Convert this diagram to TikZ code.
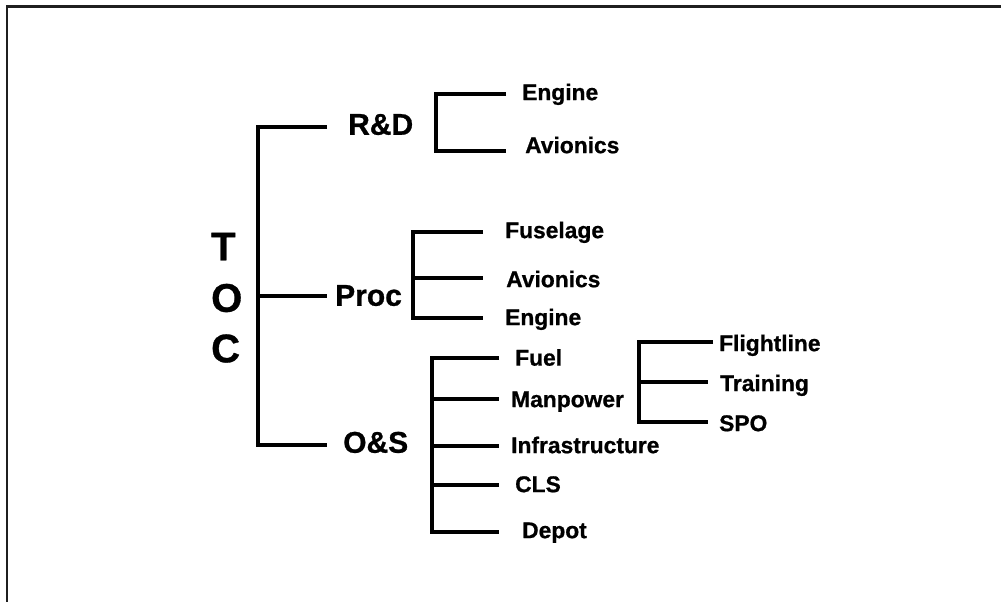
\documentclass[tikz,border=0pt]{standalone}
\usepackage{fontspec}
\setmainfont{Liberation Sans}[BoldFeatures={FakeBold=0.8}]
\begin{document}
\begin{tikzpicture}[x=1pt,y=-1pt,
  frameline/.style={line width=2.5pt,draw=black!88},
  trunk/.style={line width=4pt,line join=miter,line cap=butt},
  twig/.style={line width=3.6pt,line join=miter,line cap=butt},
  big/.style={anchor=west,inner sep=0pt,font=\fontsize{40}{40}\selectfont\bfseries,text height=28.6pt,text depth=0pt},
  mid/.style={anchor=west,inner sep=0pt,font=\fontsize{30}{30}\selectfont\bfseries,text height=21.5pt,text depth=0pt},
  small/.style={anchor=west,inner sep=0pt,font=\fontsize{22.8}{22.8}\selectfont\bfseries,text height=16.3pt,text depth=0pt}]
\useasboundingbox (0,0) rectangle (1001,602);
% frame
\coordinate (fA) at (7,602); \coordinate (fB) at (7,6.5); \coordinate (fC) at (1001,6.5);
\draw[frameline] (fA) -- (fB) -- (fC);
% TOC letters
\node[big] (tT) at (211,246) {T};
\node[big] (tO) at (211,297.5) {O};
\node[big] (tC) at (211,348) {C};
% main labels
\node[mid] (rd) at (348,124) {R\&D};
\node[mid] (proc) at (335,295) {Proc};
\node[mid] (os) at (343,442) {O\&S};
% R&D children
\node[small] (rdEngine) at (522,92) {Engine};
\node[small] (rdAvionics) at (525,145) {Avionics};
% Proc children
\node[small] (pFuselage) at (505,230) {Fuselage};
\node[small] (pAvionics) at (506,279) {Avionics};
\node[small] (pEngine) at (505,317) {Engine};
% O&S children
\node[small] (oFuel) at (515,357.5) {Fuel};
\node[small] (oManpower) at (511,399) {Manpower};
\node[small] (oInfra) at (511,445) {Infrastructure};
\node[small] (oCLS) at (515,484) {CLS};
\node[small] (oDepot) at (522,530) {Depot};
% Manpower children
\node[small] (mFlight) at (719,343) {Flightline};
\node[small] (mTraining) at (720,383) {Training};
\node[small] (mSPO) at (719,423) {SPO};
% main trunk
\coordinate (tTop) at (258,127); \coordinate (tMid) at (258,296); \coordinate (tBot) at (258,445);
\coordinate (eRD) at (327,127); \coordinate (eProc) at (327,296); \coordinate (eOS) at (327,445);
\draw[trunk] (eRD) -- (tTop) -- (tBot) -- (eOS);
\draw[trunk] (tMid) -- (eProc);
% R&D bracket
\coordinate (rTop) at (436,94); \coordinate (rBot) at (436,151);
\coordinate (rE1) at (506,94); \coordinate (rE2) at (506,151);
\draw[twig] (rE1) -- (rTop) -- (rBot) -- (rE2);
% Proc bracket
\coordinate (pTop) at (413,232); \coordinate (pMid) at (413,278); \coordinate (pBot) at (413,318);
\coordinate (pE1) at (483,232); \coordinate (pE2) at (483,278); \coordinate (pE3) at (483,318);
\draw[twig] (pE1) -- (pTop) -- (pBot) -- (pE3);
\draw[twig] (pMid) -- (pE2);
% O&S bracket
\coordinate (oTop) at (432,358); \coordinate (oM2) at (432,399); \coordinate (oM3) at (432,446);
\coordinate (oM4) at (432,485); \coordinate (oBot) at (432,532);
\coordinate (oE1) at (499,358); \coordinate (oE2) at (499,399); \coordinate (oE3) at (499,446);
\coordinate (oE4) at (499,485); \coordinate (oE5) at (499,532);
\draw[twig] (oE1) -- (oTop) -- (oBot) -- (oE5);
\draw[twig] (oM2) -- (oE2);
\draw[twig] (oM3) -- (oE3);
\draw[twig] (oM4) -- (oE4);
% Manpower bracket
\coordinate (mTop) at (639,342); \coordinate (mMid) at (639,382); \coordinate (mBot) at (639,422);
\coordinate (mE1) at (713,342); \coordinate (mE2) at (708,382); \coordinate (mE3) at (708,422);
\draw[twig] (mE1) -- (mTop) -- (mBot) -- (mE3);
\draw[twig] (mMid) -- (mE2);
\end{tikzpicture}
\end{document}
